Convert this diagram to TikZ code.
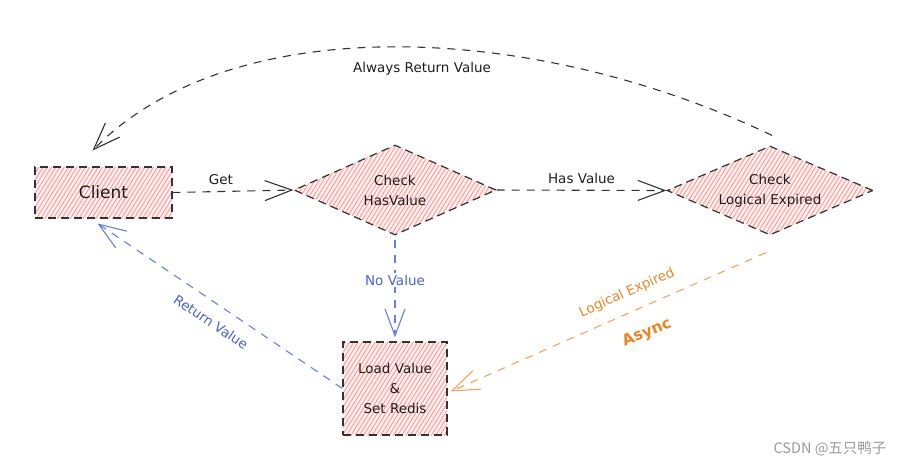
\documentclass[tikz,border=0pt]{standalone}
\usepackage{fontspec}
\setmainfont{DejaVu Sans}
\newfontfamily\cjkfont{Noto Sans CJK SC}
\usetikzlibrary{shapes.geometric,arrows.meta,patterns.meta,calc}
\definecolor{ink}{HTML}{333333}
\definecolor{txt}{HTML}{1E1E1E}
\definecolor{pinkbg}{HTML}{FFF0F0}
\definecolor{hatchred}{HTML}{FF9898}
\definecolor{blueline}{HTML}{6680E0}
\definecolor{bluetext}{HTML}{4A63D2}
\definecolor{orangeline}{HTML}{F5A35C}
\definecolor{orangetext}{HTML}{EC8426}
\definecolor{wmgray}{HTML}{9A9A9A}
\tikzset{
  hatch/.style={draw=ink, line width=1.2pt, dash pattern=on 8pt off 5pt,
    preaction={fill=pinkbg},
    pattern={Lines[angle=58,distance=3.6pt,line width=0.9pt]}, pattern color=hatchred},
  boxnode/.style={hatch, rectangle, inner sep=0pt, align=center, text=txt},
  dianode/.style={hatch, diamond, aspect=2.25, inner sep=0pt, align=center, text=txt,
    font=\fontsize{13.5}{20}\selectfont},
  conn/.style={draw=ink, line width=1.1pt, dash pattern=on 8pt off 7pt},
  barb/.style={-{Straight Barb[length=27pt,width=20pt,line width=1.1pt]}},
  lbl/.style={font=\fontsize{13.5}{16}\selectfont, text=txt, inner sep=2pt},
}
\begin{document}
\begin{tikzpicture}[x=1pt,y=-1pt]
\useasboundingbox (0,0) rectangle (916,467);
% nodes
\node[boxnode, minimum width=137pt, minimum height=51pt, font=\fontsize{17}{20}\selectfont]
  (client) at (103.5,192.5) {Client};
\node[dianode, minimum width=202pt, minimum height=90pt] (d1) at (395,190) {Check\\HasValue};
\node[dianode, minimum width=206pt, minimum height=89pt] (d2) at (770,190.5) {Check\\Logical Expired};
\node[boxnode, minimum width=104pt, minimum height=93pt, font=\fontsize{13.5}{20}\selectfont]
  (load) at (395,388.5) {Load Value\\\&\\Set Redis};
% connectors
\draw[conn, barb] (client.east) -- node[lbl, above=4pt, pos=0.4] {Get} (d1.west);
\draw[conn, barb] (d1.east) -- node[lbl, above=4pt, pos=0.5] {Has Value} (d2.west);
\draw[conn, draw=blueline, barb, shorten <=4pt, shorten >=4pt] (d1.south) --
  node[lbl, fill=white, text=bluetext, pos=0.42] {No Value} (load.north);
\draw[conn, draw=blueline, barb] (load.west) -- ($(client.south)+(-6,5)$);
\node[lbl, text=bluetext, rotate=-34] (retlbl) at (211,322) {Return Value};
\coordinate (ostart) at ($(d2.south)+(-4,17)$);
\draw[conn, draw=orangeline, barb] (ostart) -- ($(load.east)+(3,3)$);
\node[lbl, text=orangetext, rotate=24] (explbl) at (627,293) {Logical Expired};
\node[lbl, text=orangetext, rotate=22, font=\bfseries\fontsize{15.5}{18}\selectfont] (asynclbl) at (647,333) {Async};
\coordinate (cstart) at ($(d2.north)+(2,-10)$);
\draw[conn, barb] (cstart) .. controls (530,20) and (230,10) .. ($(client.north)+(-11,-16)$);
\node[lbl] (alwayslbl) at (422,69) {Always Return Value};
% watermark
\node[text=wmgray, font=\cjkfont\fontsize{14.5}{17}\selectfont, inner sep=0pt] (wm) at (830,449) {CSDN @五只鸭子};
\end{tikzpicture}
\end{document}
